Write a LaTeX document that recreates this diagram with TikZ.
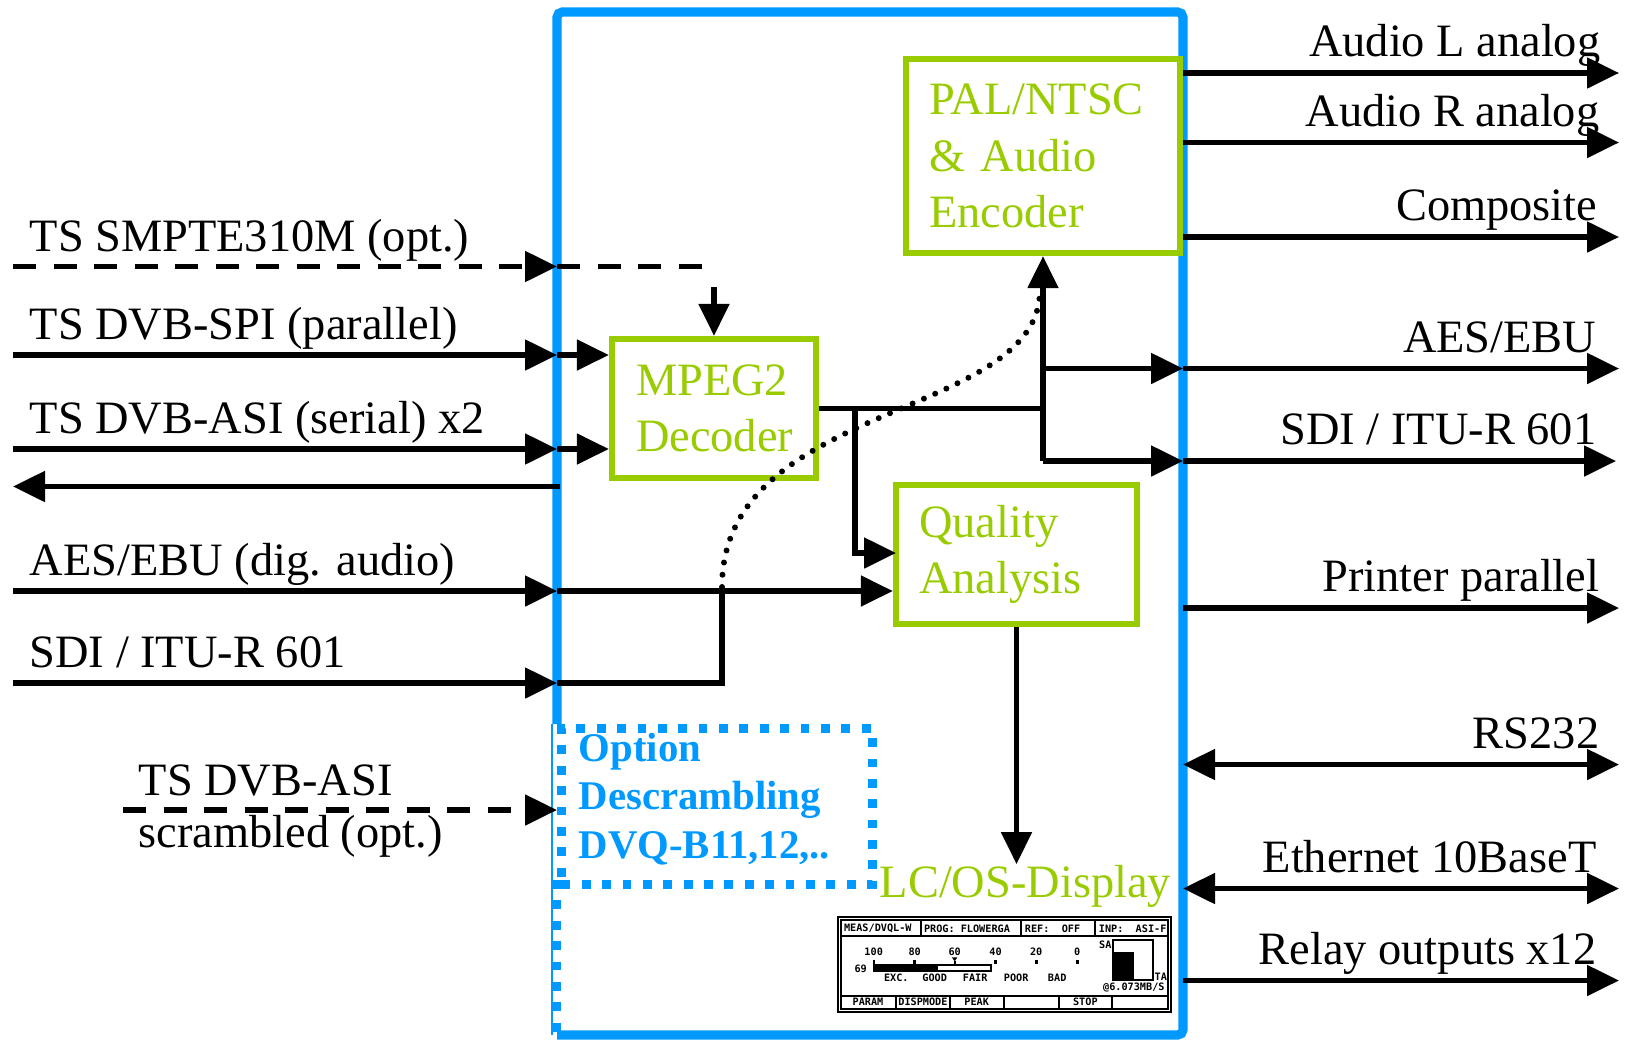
\documentclass[tikz,border=0pt]{standalone}
\usepackage{fontspec}
\setmainfont{Liberation Serif}
\newfontfamily\lcdfont{DejaVu Sans Mono}
\usepackage{tikz}
\usetikzlibrary{arrows.meta, positioning}
\definecolor{unitgreen}{RGB}{153,204,0}
\definecolor{caseblue}{RGB}{0,153,255}
\tikzstyle{unit} = [rectangle, draw=unitgreen, line width=1.8pt, text=unitgreen, align=left, inner sep=0pt, font=\fontsize{13.2}{16}\selectfont]
\tikzstyle{option} = [rectangle, draw=caseblue, line width=2.5pt, dash pattern=on 2.5pt off 3.3pt, inner sep=0pt]
\tikzstyle{optiontext} = [text=caseblue, align=left, inner sep=0pt, font=\bfseries\fontsize{11.6}{13.9}\selectfont]
\tikzstyle{iolabel} = [inner sep=0pt, font=\fontsize{13.2}{16}\selectfont]
\tikzstyle{wire} = [line width=1.45pt]
\tikzstyle{arrow} = [wire, ->, >={Triangle[length=3.2mm, width=3mm]}]
\tikzstyle{bothways} = [arrow, <->]
\tikzstyle{optline} = [wire, dash pattern=on 2.3mm off 1.75mm]
\tikzstyle{optarrow} = [optline, ->, >={Triangle[length=3.2mm, width=3mm]}]
\tikzstyle{lcd} = [inner sep=0pt, font=\lcdfont\bfseries\fontsize{2.9}{3.4}\selectfont]

\begin{document}
\begin{tikzpicture}
\useasboundingbox (0,0) rectangle (16.35,-10.39);

% Gehaeuse
\draw [caseblue, line width=2.6pt, rounded corners=1.5pt] (5.57,-7.24) -- (5.57,-0.12) -- (11.83,-0.12) -- (11.83,-10.35) -- (5.57,-10.35);
\draw [caseblue, line width=0.4pt] (5.52,-7.24) -- (5.52,-10.35);
\draw [caseblue, line width=2.5pt, dash pattern=on 2.5pt off 3.3pt] (5.57,-8.80) -- (5.57,-10.35);

% Bloecke
\node (enc) [unit, minimum width=2.74cm, minimum height=1.94cm, text width=2.28cm] at (10.43,-1.56) {PAL/NTSC\\\& Audio\\Encoder};
\node (dec) [unit, minimum width=2.04cm, minimum height=1.39cm, text width=1.56cm] at (7.14,-4.085) {MPEG2\\Decoder};
\node (qa) [unit, minimum width=2.41cm, minimum height=1.39cm, text width=1.95cm] at (10.165,-5.545) {Quality\\Analysis};
\node (descr) [option, minimum width=3.11cm, minimum height=1.56cm, anchor=north west] at (5.57,-7.24) {};
\node (descrT) [optiontext, anchor=north west, below right=0.08cm and 0.21cm of descr.north west] {Option\\Descrambling\\DVQ-B11,12,..};
\node (lcos) [iolabel, text=unitgreen, anchor=base west] at (8.79,-8.97) {LC/OS-Display};

% Eingaenge
\coordinate (smpteL) at (0.13,-2.665);
\coordinate (smpteF) at (5.57,-2.665);
\coordinate (smpteE) at (7.17,-2.665);
\coordinate (smpteD) at (7.15,-2.87);
\coordinate (spiL) at (0.13,-3.55);
\coordinate (spiF) at (5.57,-3.55);
\coordinate (asiL) at (0.13,-4.49);
\coordinate (asiF) at (5.57,-4.49);
\coordinate (loopL) at (0.13,-4.865);
\coordinate (loopF) at (5.60,-4.865);
\coordinate (aesL) at (0.13,-5.91);
\coordinate (aesF) at (5.57,-5.91);
\coordinate (sdiL) at (0.13,-6.83);
\coordinate (sdiF) at (5.57,-6.83);
\coordinate (sdiJ) at (7.22,-5.91);
\coordinate (scrL) at (1.23,-8.10);
\coordinate (scrF) at (5.57,-8.10);

\node (smpteT) [iolabel, anchor=base west] at (0.29,-2.515) {TS SMPTE310M (opt.)};
\node (spiT) [iolabel, anchor=base west] at (0.29,-3.395) {TS DVB-SPI (parallel)};
\node (asiT) [iolabel, anchor=base west] at (0.29,-4.335) {TS DVB-ASI (serial) x2};
\node (aesT) [iolabel, anchor=base west] at (0.29,-5.755) {AES/EBU (dig. audio)};
\node (sdiT) [iolabel, anchor=base west] at (0.29,-6.675) {SDI / ITU-R 601};
\node (scrT) [iolabel, anchor=base west] at (1.38,-7.95) {TS DVB-ASI};
\node (scrT2) [iolabel, anchor=base west] at (1.38,-8.47) {scrambled (opt.)};

\draw [optarrow] (smpteL) -- (smpteF);
\draw [optline] (smpteF) -- (smpteE);
\draw [arrow] (dec.north |- smpteD) -- (dec.north);
\draw [arrow] (spiL) -- (spiF);
\draw [arrow] (spiF) -- (dec.west |- spiF);
\draw [arrow] (asiL) -- (asiF);
\draw [arrow] (asiF) -- (dec.west |- asiF);
\draw [arrow] (loopF) -- (loopL);
\draw [arrow] (aesL) -- (aesF);
\draw [arrow] (aesF) -- (qa.west |- aesF);
\draw [arrow] (sdiL) -- (sdiF);
\draw [wire] (sdiF) -| (sdiJ);
\draw [optarrow] (scrL) -- (scrF);

% intern
\coordinate (decJ) at (10.43,-4.085);
\coordinate (branch) at (8.55,-4.085);
\coordinate (qaIn) at (8.96,-5.53);
\coordinate (aesoJ) at (10.43,-3.685);
\coordinate (aesoF) at (11.83,-3.685);
\coordinate (aesoR) at (16.19,-3.685);
\coordinate (sdioJ) at (10.43,-4.61);
\coordinate (sdioF) at (11.83,-4.61);
\coordinate (sdioR) at (16.16,-4.61);
\coordinate (dotA) at (7.22,-5.87);
\coordinate (dotB) at (10.40,-2.90);

\draw [wire] (dec.east) -- (decJ);
\draw [arrow] (branch) |- (qaIn);
\draw [arrow] (sdioJ) -- (enc.south);
\draw [arrow] (aesoJ) -- (aesoF);
\draw [arrow] (aesoF) -- (aesoR);
\draw [wire] (decJ) -- (sdioJ);
\draw [arrow] (sdioJ) -- (sdioF);
\draw [arrow] (sdioF) -- (sdioR);
\draw [line width=1.7pt, line cap=round, dash pattern=on 0pt off 3.5pt] (dotA) .. controls (7.22,-4.00) and (10.40,-4.20) .. (dotB);
\draw [arrow] (qa.south) -- (qa.south |- lcos.north);

% Ausgaenge
\coordinate (audL) at (16.19,-0.73);
\coordinate (audR) at (16.19,-1.425);
\coordinate (cvbs) at (16.19,-2.37);
\coordinate (prnF) at (11.83,-6.08);
\coordinate (prnR) at (16.19,-6.08);
\coordinate (rsF) at (11.83,-7.645);
\coordinate (rsR) at (16.19,-7.645);
\coordinate (ethF) at (11.83,-8.885);
\coordinate (ethR) at (16.19,-8.885);
\coordinate (relF) at (11.83,-9.805);
\coordinate (relR) at (16.19,-9.805);

\draw [arrow] (enc.east |- audL) -- (audL);
\draw [arrow] (enc.east |- audR) -- (audR);
\draw [arrow] (enc.east |- cvbs) -- (cvbs);
\draw [arrow] (prnF) -- (prnR);
\draw [bothways] (rsF) -- (rsR);
\draw [bothways] (ethF) -- (ethR);
\draw [arrow] (relF) -- (relR);

\node (audLT) [iolabel, anchor=base east] at (16.01,-0.565) {Audio L analog};
\node (audRT) [iolabel, anchor=base east] at (16.00,-1.26) {Audio R analog};
\node (cvbsT) [iolabel, anchor=base east] at (15.98,-2.205) {Composite};
\node (aesoT) [iolabel, anchor=base east] at (15.97,-3.52) {AES/EBU};
\node (sdioT) [iolabel, anchor=base east] at (15.97,-4.445) {SDI / ITU-R 601};
\node (prnT) [iolabel, anchor=base east] at (16.00,-5.915) {Printer parallel};
\node (rsT) [iolabel, anchor=base east] at (16.00,-7.48) {RS232};
\node (ethT) [iolabel, anchor=base east] at (15.97,-8.72) {Ethernet 10BaseT};
\node (relT) [iolabel, anchor=base east] at (15.97,-9.64) {Relay outputs x12};

% Display
\begin{scope}[shift={(8.38,-9.17)}, x=0.01cm, y=-0.01cm, line width=0.6pt]
  \draw (0,0) rectangle (333,95);
  \draw (3,3) rectangle (330,92);
  \draw (3,19.3) -- (330,19.3);
  \draw (3,78.7) -- (330,78.7);
  \foreach \x in {83,183,257} \draw (\x,3) -- (\x,19.3);
  \foreach \x in {57.7,111.7,165.7,220.7,274.3} \draw (\x,78.7) -- (\x,92);
  \node (meas) [lcd, anchor=west] at (5,11.5) {MEAS/DVQL-W};
  \node (prog) [lcd, anchor=west] at (85,11.5) {PROG: FLOWERGA};
  \node (ref) [lcd, anchor=west] at (186,11.5) {REF:\ \ OFF};
  \node (inp) [lcd, anchor=west] at (260,11.5) {INP:\ \ ASI-F};
  \foreach \v/\x in {100/35.7,80/76.7,60/116.7,40/157.7,20/198.3,0/239.3}
    \node (sc\v) [lcd] at (\x,34.3) {\v};
  \node (val) [lcd] at (22.7,51.7) {69};
  \fill (35.7,47.7) rectangle (100,53.7);
  \draw (35.7,47.7) rectangle (152.7,53.7);
  \draw (35.7,42.7) -- (35.7,47.7);
  \draw [line width=0.8pt] (76.7,43) -- (76.7,47.7);
  \fill (113.9,40.3) -- (119.5,40.3) -- (116.7,44.3) -- cycle;
  \draw (116.7,44) -- (116.7,47.7);
  \foreach \x in {157.7,198.3,239.3} \draw [line width=0.8pt] (\x,43.3) -- (\x,46.7);
  \foreach \t/\x [count=\i] in {EXC./58.3,GOOD/96.7,FAIR/137.3,POOR/178.3,BAD/219.3}
    \node (grade\i) [lcd] at (\x,61) {\t};
  \draw (275,23.3) rectangle (315,62.7);
  \fill (275,35.3) rectangle (296,62.7);
  \node (sa) [lcd] at (267.5,27.7) {SA};
  \node (ta) [lcd] at (323,59.3) {TA};
  \node (rate) [lcd] at (296,70.3) {@6.073MB/S};
  \foreach \t/\x [count=\i] in {PARAM/30,DISPMODE/85,PEAK/138.7,STOP/247.5}
    \node (key\i) [lcd] at (\x,85.3) {\t};
\end{scope}

\end{tikzpicture}
\end{document}
